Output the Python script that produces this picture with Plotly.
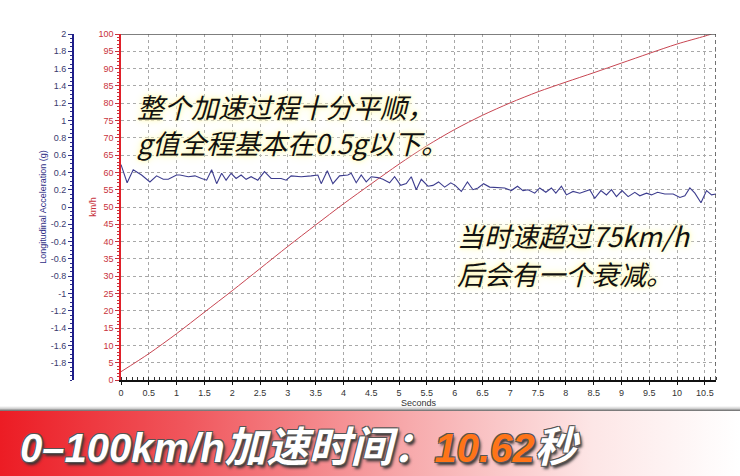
import base64
import plotly.graph_objects as go

# ---------------- data ----------------
speed_time = [0, 0.5, 1.0, 1.5, 2.0, 2.5, 3.0, 3.5, 4.0, 4.5, 5.0, 5.5, 6.0, 6.5,
              7.0, 7.5, 8.0, 8.5, 9.0, 9.5, 10.0, 10.5, 10.62]
speed_kmh = [2.4, 7.6, 13.4, 19.6, 25.8, 32.2, 38.6, 44.8, 50.9, 56.7, 62.4, 67.7,
             72.4, 76.5, 80.1, 83.3, 86.1, 88.8, 91.6, 94.4, 97.1, 99.4, 100]

acc_time = [0.0, 0.11, 0.22, 0.37, 0.52, 0.64, 0.76, 0.85, 1.0, 1.06, 1.21, 1.33,
            1.45, 1.54, 1.63, 1.72, 1.81, 1.89, 1.98, 2.07, 2.16, 2.25, 2.34, 2.46,
            2.58, 2.70, 2.88, 2.97, 3.06, 3.24, 3.42, 3.54, 3.60, 3.71, 3.81, 3.93,
            4.08, 4.14, 4.23, 4.32, 4.41, 4.50, 4.62, 4.71, 4.83, 4.92, 5.03, 5.13,
            5.22, 5.31, 5.40, 5.52, 5.61, 5.71, 5.82, 5.93, 6.01, 6.12, 6.23, 6.33,
            6.42, 6.52, 6.63, 6.78, 6.90, 7.02, 7.13, 7.23, 7.32, 7.44, 7.53, 7.64,
            7.74, 7.82, 7.92, 8.01, 8.13, 8.25, 8.34, 8.43, 8.52, 8.63, 8.73, 8.82,
            8.91, 9.01, 9.12, 9.24, 9.33, 9.45, 9.54, 9.65, 9.78, 9.93, 10.05, 10.14,
            10.23, 10.32, 10.43, 10.53, 10.62, 10.70]
acc_g = [0.49, 0.28, 0.43, 0.37, 0.29, 0.36, 0.32, 0.32, 0.37, 0.37, 0.35, 0.36,
         0.33, 0.31, 0.43, 0.27, 0.39, 0.31, 0.39, 0.33, 0.37, 0.32, 0.35, 0.31,
         0.41, 0.33, 0.33, 0.31, 0.36, 0.35, 0.36, 0.37, 0.27, 0.42, 0.27, 0.36,
         0.37, 0.39, 0.28, 0.37, 0.29, 0.35, 0.34, 0.32, 0.28, 0.35, 0.25, 0.27,
         0.35, 0.20, 0.32, 0.24, 0.25, 0.29, 0.23, 0.28, 0.25, 0.18, 0.29, 0.20,
         0.22, 0.27, 0.23, 0.22, 0.22, 0.19, 0.24, 0.19, 0.20, 0.16, 0.22, 0.17,
         0.22, 0.16, 0.24, 0.14, 0.18, 0.16, 0.18, 0.20, 0.10, 0.19, 0.14, 0.20,
         0.12, 0.19, 0.12, 0.17, 0.13, 0.16, 0.14, 0.17, 0.15, 0.15, 0.11, 0.13,
         0.22, 0.16, 0.05, 0.19, 0.14, 0.15]

g_tickvals = [2, 1.8, 1.6, 1.4, 1.2, 1, 0.8, 0.6, 0.4, 0.2, 0, -0.2, -0.4, -0.6,
              -0.8, -1, -1.2, -1.4, -1.6, -1.8]
g_ticktext = ["2", "1.8", "1.6", "1.4", "1.2", "1", "0.8", "0.6", "0.4", "0.2", "0",
              "-0.2", "-0.4", "-0.6", "-0.8", "-1", "-1.2", "-1.4", "-1.6", "-1.8"]

note1 = ["整个加速过程十分平顺，", "g值全程基本在0.5g以下。"]
note2 = ["当时速超过75km/h", "后会有一个衰减。"]
banner_prefix = "0–100km/h"
banner_mid = "加速时间："
banner_value = "10.62"
banner_unit = "秒"

# ---------------- layout geometry ----------------
W, H = 740, 476
ML, MR, MT, MB = 20, 24, 34, 96
PW = W - ML - MR
PH = H - MT - MB
PLOT_LEFT = 121


def px_x(p):
    return (p - ML) / PW


def px_y(p):
    return (H - MB - p) / PH


RED = "#c8323c"
NAVY = "#2e2e86"
GRID = "#a8a8a8"

fig = go.Figure()

fig.add_trace(go.Scatter(
    x=speed_time, y=speed_kmh, mode="lines", yaxis="y",
    line=dict(color="#c84652", width=1, shape="spline", smoothing=0.8),
    showlegend=False, hoverinfo="skip"))

fig.add_trace(go.Scatter(
    x=acc_time, y=acc_g, mode="lines", yaxis="y2",
    line=dict(color="#3c3c8e", width=1.1),
    showlegend=False, hoverinfo="skip"))

tickfont = dict(family="Arial, Liberation Sans, sans-serif", size=9)

fig.update_layout(
    width=W, height=H,
    margin=dict(l=ML, r=MR, t=MT, b=MB, pad=0),
    paper_bgcolor="white", plot_bgcolor="white",
    xaxis=dict(
        domain=[px_x(PLOT_LEFT), 1], range=[0, 10.7], dtick=0.5, tick0=0,
        showgrid=True, gridcolor=GRID, griddash="3px,3px", gridwidth=1,
        zeroline=False, showline=True, linecolor="#111", linewidth=2,
        ticks="outside", ticklen=3, tickcolor="#111",
        minor=dict(dtick=0.1, ticks="inside", ticklen=3, tickcolor="#333", showgrid=False),
        tickfont=dict(tickfont, color="#333"),
        title=dict(text="Seconds", font=dict(tickfont, color="#333"), standoff=2),
    ),
    yaxis=dict(
        range=[0, 100], dtick=5, tick0=0,
        showgrid=True, gridcolor=GRID, griddash="3px,3px", gridwidth=1,
        zeroline=False, showline=True, linecolor="#e0202a", linewidth=1.5,
        ticks="outside", ticklen=4, tickcolor=RED,
        minor=dict(dtick=1, ticks="outside", ticklen=2, tickcolor=RED, showgrid=False),
        tickfont=dict(tickfont, color=RED),
        title=dict(text="km/h", font=dict(tickfont, color=RED), standoff=0),
    ),
    yaxis2=dict(
        range=[-2, 2], overlaying="y", anchor="free", side="left",
        position=px_x(73),
        tickmode="array", tickvals=g_tickvals, ticktext=g_ticktext,
        showgrid=False, zeroline=False, showline=True, linecolor="#1e1e8a", linewidth=2,
        ticks="outside", ticklen=4, tickcolor=NAVY,
        minor=dict(tickmode="linear", dtick=0.05, ticks="outside", ticklen=2,
                   tickcolor=NAVY, showgrid=False),
        tickfont=dict(tickfont, color="#3a3a6e"),
        title=dict(text="Longitudinal Acceleration (g)", font=dict(tickfont, color=NAVY),
                   standoff=2),
    ),
)

# plot frame: solid top, dashed right edge
fig.add_shape(type="line", xref="x", yref="y", x0=0, x1=10.7, y0=100, y1=100,
              line=dict(color="#555", width=1.5))
fig.add_shape(type="line", xref="x", yref="y", x0=10.7, x1=10.7, y0=0, y1=100,
              line=dict(color="#444", width=1.5, dash="4px,3px"))

# banner background (gradient) as inline svg image
svg = """<svg xmlns='http://www.w3.org/2000/svg' width='740' height='70' viewBox='0 0 740 70' preserveAspectRatio='none'>
<defs>
<linearGradient id='r' x1='0' y1='0' x2='1' y2='0'>
<stop offset='0' stop-color='#ec1c24'/>
<stop offset='0.25' stop-color='#f0565c'/>
<stop offset='0.55' stop-color='#f7a9ab'/>
<stop offset='0.8' stop-color='#fde6e6'/>
<stop offset='1' stop-color='#ffffff'/>
</linearGradient>
<linearGradient id='s' x1='0' y1='0' x2='0' y2='1'>
<stop offset='0' stop-color='#ffffff'/>
<stop offset='0.5' stop-color='#d0d0d0'/>
<stop offset='1' stop-color='#666666'/>
</linearGradient>
</defs>
<rect x='0' y='0' width='740' height='5' fill='url(#s)'/>
<rect x='0' y='5' width='740' height='65' fill='url(#r)'/>
</svg>"""
src = "data:image/svg+xml;base64," + base64.b64encode(svg.encode("utf-8")).decode("ascii")
fig.add_layout_image(dict(
    source=src, xref="paper", yref="paper",
    x=px_x(0), y=px_y(406), sizex=W / PW, sizey=70 / PH,
    xanchor="left", yanchor="top", sizing="stretch", layer="above"))

# notes
cjk = "Noto Sans CJK SC, Microsoft YaHei, sans-serif"
glow = ("0px 0px 2px #fff8b8, 0px 0px 4px #fff8b8, 0px 0px 8px #fffad0, "
        "0px 0px 12px #fffcdc")


def data_x(p):
    return (p - PLOT_LEFT) / 55.6


def data_y(p):
    return (380 - p) / 3.46


for text, py in zip(note1, [106, 142]):
    fig.add_annotation(x=data_x(135), y=data_y(py), xref="x", yref="y",
                       text=text, showarrow=False, xanchor="left", yanchor="middle",
                       font=dict(family=cjk, size=27, color="#111", style="italic",
                                 shadow=glow))
for text, py in zip(note2, [235, 273]):
    fig.add_annotation(x=data_x(455), y=data_y(py), xref="x", yref="y",
                       text=text, showarrow=False, xanchor="left", yanchor="middle",
                       font=dict(family=cjk, size=27, color="#111", style="italic",
                                 shadow=glow))

# banner text
latin = "Liberation Sans, Arial, sans-serif"
banner_text = (f"<span style='font-family:{latin};font-size:40px'>{banner_prefix}</span>"
               f"{banner_mid}"
               f"<span style='font-family:{latin};font-size:40px;fill:#ff7418;color:#ff7418'>{banner_value}</span>"
               f"{banner_unit}")
fig.add_annotation(
    x=px_x(18), y=px_y(443), xref="paper", yref="paper",
    text=banner_text, showarrow=False, xanchor="left", yanchor="middle",
    font=dict(family=cjk, size=42, color="white", weight="bold", style="italic",
              shadow="1px 1px 0 #555, -1px -1px 0 #555, 1px -1px 0 #555, -1px 1px 0 #555, 2px 3px 3px #333"))

fig.write_html("out.html", config={"displayModeBar": False},
               post_script="document.body.style.margin='0';document.body.style.padding='0';")
